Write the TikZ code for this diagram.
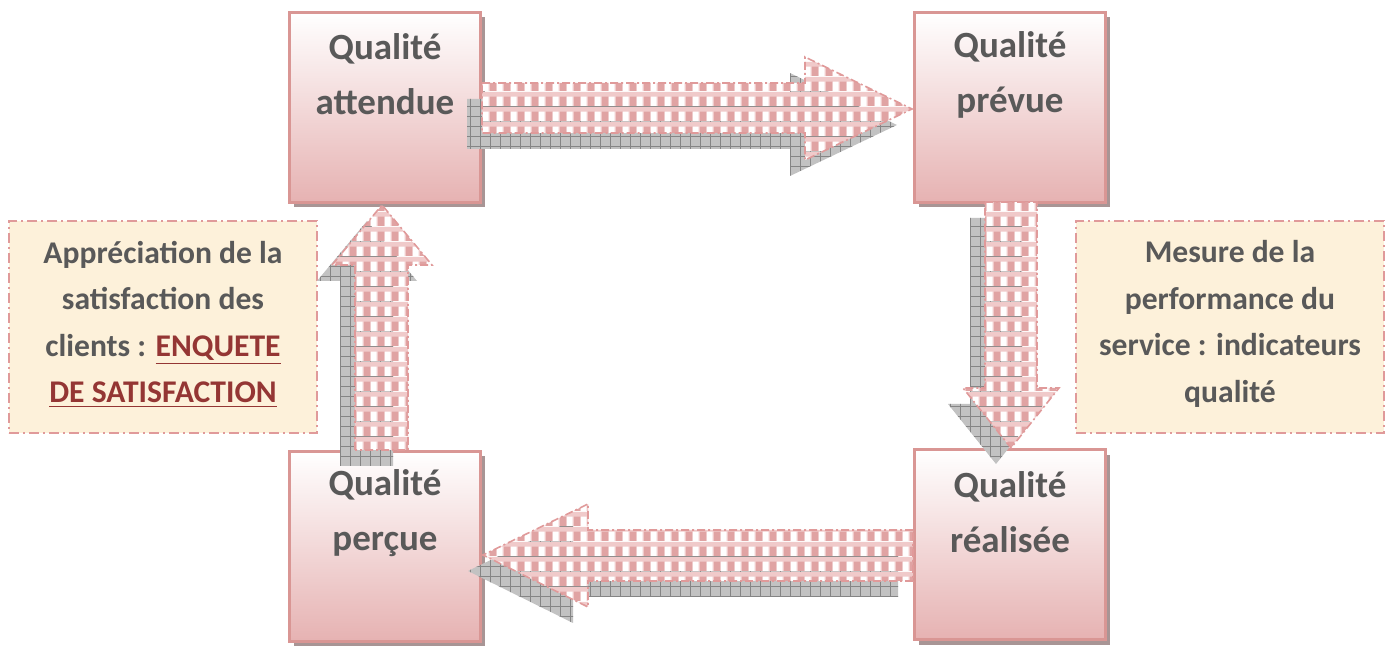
\documentclass[tikz,border=0pt]{standalone}
\usepackage{fontspec}
\setmainfont{Carlito}
\usetikzlibrary{patterns,patterns.meta,shadows,positioning}
\definecolor{qtext}{HTML}{595959}
\definecolor{qborder}{HTML}{D99694}
\definecolor{qpink}{HTML}{E6B2B2}
\definecolor{qshadow}{HTML}{9E8A8A}
\definecolor{cream}{HTML}{FDF1DA}
\definecolor{dashpink}{HTML}{E09A9A}
\definecolor{enqred}{HTML}{943634}
\definecolor{ginglight}{HTML}{F0CACA}
\definecolor{gingdark}{HTML}{E0A3A3}
\definecolor{shadegray}{HTML}{C2C2C2}
\definecolor{gridgray}{HTML}{858585}
\pgfdeclarepatterninherentlycolored{gingham}{\pgfpointorigin}{\pgfqpoint{7pt}{7.5pt}}{\pgfqpoint{7pt}{7.5pt}}{%
  \pgfsetfillcolor{ginglight}%
  \pgfpathrectangle{\pgfpointorigin}{\pgfqpoint{7pt}{7.5pt}}\pgfusepath{fill}%
  \pgfsetfillcolor{gingdark}%
  \pgfpathrectangle{\pgfpointorigin}{\pgfqpoint{3.5pt}{5pt}}\pgfusepath{fill}%
  \pgfsetfillcolor{white}%
  \pgfpathrectangle{\pgfqpoint{3.5pt}{0pt}}{\pgfqpoint{3.2pt}{5pt}}\pgfusepath{fill}%
}
\begin{document}
\begin{tikzpicture}[x=0.5pt,y=-0.5pt,
    qbox/.style={draw=qborder, line width=1.5pt, top color=white, bottom color=qpink,
      minimum width=95.5pt, minimum height=95pt,
      drop shadow={shadow xshift=2pt, shadow yshift=-2.5pt, fill=qshadow, opacity=.9}},
    qlabel/.style={align=center, text=qtext, font=\fontsize{18.5}{27.5}\selectfont\bfseries},
    sidebox/.style={draw=dashpink, fill=cream, line width=1pt,
      dash pattern=on 5pt off 2pt on 1pt off 2pt,
      minimum width=154pt, minimum height=106pt, align=center,
      text=qtext, font=\fontsize{15.8}{23.3}\selectfont\bfseries},
    arrowshade/.style={fill=shadegray,
      postaction={pattern={Hatch[angle=0,distance=5pt,line width=0.4pt]}, pattern color=gridgray}},
    blockarrow/.style={pattern=gingham, draw=dashpink, line width=0.8pt,
      dash pattern=on 4pt off 1.5pt on 1pt off 1.5pt}]
  \tikzstyle{every node}+=[inner sep=0pt]
  \useasboundingbox (0,0) rectangle (1394,646);
  % the four quality boxes
  \node[qbox] (attendue) at (385,107.5) {};
  \node[qbox] (prevue) at (1010,107.5) {};
  \node[qbox] (percue) at (385,546.5) {};
  \node[qbox] (realisee) at (1010,545) {};
  % side notes
  \node[sidebox] (appreciation) at (163,327) {};
  \node[sidebox, draw=none, fill=none, minimum height=0pt] (appreciation-t) at (163,324) {Appréciation de la\\ satisfaction des\\ clients : \textcolor{enqred}{\underline{ENQUETE}}\\ \textcolor{enqred}{\underline{DE SATISFACTION}}};
  \node[sidebox] (mesure) at (1230,327) {};
  \node[sidebox, draw=none, fill=none, minimum height=0pt] (mesure-t) at (1230,324) {Mesure de la\\ performance du\\ service : indicateurs\\ qualité};
  % block arrows, shadows first
  \fill[arrowshade, xshift=-7.5pt, yshift=-8pt] (482,83) -- (805,83) -- (805,57) -- (912,109) -- (805,160) -- (805,133) -- (482,133) -- cycle;
  \fill[arrowshade, xshift=-7.5pt, yshift=-8pt] (985,202) -- (1037,202) -- (1037,388) -- (1059,388) -- (1011,448) -- (963,388) -- (985,388) -- cycle;
  \fill[arrowshade, xshift=-7.5pt, yshift=-8pt] (913,530) -- (588,530) -- (588,504) -- (483,555) -- (588,607) -- (588,581) -- (913,581) -- cycle;
  \fill[arrowshade, xshift=-7.5pt, yshift=-8pt] (355,450) -- (355,265) -- (332,265) -- (382,205) -- (432,265) -- (408,265) -- (408,450) -- cycle;
  \draw[blockarrow] (482,83) -- (805,83) -- (805,57) -- (912,109) -- (805,160) -- (805,133) -- (482,133) -- cycle;
  \draw[blockarrow] (985,202) -- (1037,202) -- (1037,388) -- (1059,388) -- (1011,448) -- (963,388) -- (985,388) -- cycle;
  \draw[blockarrow] (913,530) -- (588,530) -- (588,504) -- (483,555) -- (588,607) -- (588,581) -- (913,581) -- cycle;
  \draw[blockarrow] (355,450) -- (355,265) -- (332,265) -- (382,205) -- (432,265) -- (408,265) -- (408,450) -- cycle;
  % box texts
  \node[qlabel] (attendue-t) at ([yshift=16.5pt]attendue.center) {Qualité\\ attendue};
  \node[qlabel] (prevue-t) at ([yshift=16.5pt]prevue.center) {Qualité\\ prévue};
  \node[qlabel] (percue-t) at ([yshift=16.5pt]percue.center) {Qualité\\ perçue};
  \node[qlabel] (realisee-t) at ([yshift=16.5pt]realisee.center) {Qualité\\ réalisée};
\end{tikzpicture}
\end{document}
